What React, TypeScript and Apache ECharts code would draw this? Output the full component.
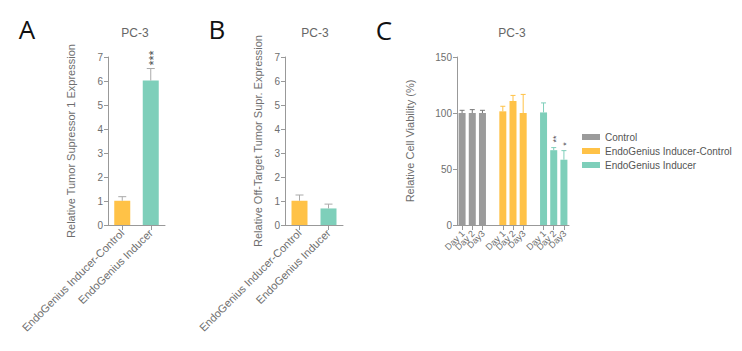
import React, { useEffect, useRef } from "react";
import * as echarts from "echarts";

// ---------- data ----------
const categoriesAB = ["EndoGenius Inducer-Control", "EndoGenius Inducer"];
const valuesA = [1.01, 6.02];
const errorsA = [0.17, 0.5];
const starsA = ["", "***"];

const valuesB = [1.01, 0.69];
const errorsB = [0.24, 0.18];
const starsB = ["", ""];

const daysC = ["Day 1", "Day 2", "Day3"];
const groupNamesC = ["Control", "EndoGenius Inducer-Control", "EndoGenius Inducer"];
const controlC = [100, 100, 100];
const controlErrC = [2.4, 3, 2.4];
const inducerCtrlC = [101.5, 110.7, 100];
const inducerCtrlErrC = [4.5, 5, 16.6];
const inducerC = [100.5, 66.8, 58.3];
const inducerErrC = [8.5, 2.3, 8.1];
const starsC = [["", "", ""], ["", "", ""], ["", "**", "*"]];

const yTicksAB = { min: 0, max: 7, interval: 1 };
const yTicksC = { min: 0, max: 150, interval: 50 };

// ---------- style ----------
const GRAY = "#9b9b9b";
const ORANGE = "#ffc247";
const GREEN = "#7ecfba";
const AXIS = "#999999";
const LABEL = "#6e6e6e";
const FONT = "Liberation Sans";

// C category axis: 3 days per group, blank slot between groups
const categoriesC: string[] = [];
daysC.forEach((d) => categoriesC.push(d));
categoriesC.push("");
daysC.forEach((d) => categoriesC.push(d));
categoriesC.push("");
daysC.forEach((d) => categoriesC.push(d));

const labelItemsC = categoriesC
  .map((text, idx) => ({ text, idx }))
  .filter((it) => it.text !== "");

const groupValuesC = [controlC, inducerCtrlC, inducerC];
const groupErrC = [controlErrC, inducerCtrlErrC, inducerErrC];
const groupColorsC = [GRAY, ORANGE, GREEN];

function slotIndex(g: number, d: number) {
  return g * (daysC.length + 1) + d;
}

// error bar (upper whisker + cap) with vertically written significance stars
function errRender(capHalf: number, color: string, starSize: number, starGap: number, stars: string[]) {
  return (params: any, api: any) => {
    const idx = api.value(0);
    const v = api.value(1);
    const e = api.value(2);
    const star = stars[params.dataIndex] || "";
    const base = api.coord([idx, v]);
    const top = api.coord([idx, v + e]);
    const children: any[] = [
      {
        type: "line",
        shape: { x1: base[0], y1: base[1], x2: top[0], y2: top[1] },
        style: { stroke: color, lineWidth: 1 },
      },
      {
        type: "line",
        shape: { x1: top[0] - capHalf, y1: top[1], x2: top[0] + capHalf, y2: top[1] },
        style: { stroke: color, lineWidth: 1 },
      },
    ];
    if (star.length > 0) {
      children.push({
        type: "text",
        x: top[0] + starSize * 0.2,
        y: top[1] - starGap,
        rotation: Math.PI / 2,
        style: {
          text: star,
          fill: "#505050",
          font: `${starSize}px ${FONT}`,
          align: "left",
          verticalAlign: "middle",
        },
      });
    }
    return { type: "group", children };
  };
}

export default function App() {
  const ref = useRef<HTMLDivElement>(null);
  useEffect(() => {
    document.body.style.margin = "0";
    if (!ref.current) return;
    const chart = echarts.init(ref.current, null, { renderer: "svg" });

    const yAxisBase = (name: string, nameGap: number, ticks: any, gridIndex: number) => ({
      type: "value",
      gridIndex,
      min: ticks.min,
      max: ticks.max,
      interval: ticks.interval,
      name,
      nameLocation: "middle",
      nameGap,
      nameTextStyle: { color: LABEL, fontSize: 11, fontFamily: FONT },
      axisLine: { show: true, lineStyle: { color: AXIS, width: 1 } },
      axisTick: { show: true, length: 4, lineStyle: { color: AXIS } },
      axisLabel: { color: LABEL, fontSize: 10, margin: 5, fontFamily: FONT },
      splitLine: { show: false },
    });

    const xAxisBase = (data: string[], gridIndex: number, fontSize: number, showLabels: boolean) => ({
      type: "category",
      gridIndex,
      data,
      axisLine: { show: true, lineStyle: { color: AXIS, width: 1 } },
      axisTick: {
        show: true,
        alignWithLabel: true,
        length: 5,
        lineStyle: { color: AXIS },
        interval: (i: number, v: string) => v !== "",
      },
      axisLabel: {
        show: showLabels,
        color: LABEL,
        fontSize,
        rotate: 45,
        margin: 6,
        fontFamily: FONT,
        interval: 0,
      },
      splitLine: { show: false },
    });

    const errDataAB = (vals: number[], errs: number[]) => vals.map((v, i) => [i, v, errs[i]]);

    const seriesC: any[] = [];
    groupNamesC.forEach((name, g) => {
      const data = categoriesC.map(() => "-" as any);
      groupValuesC[g].forEach((v, d) => {
        data[slotIndex(g, d)] = v;
      });
      seriesC.push({
        name,
        type: "bar",
        xAxisIndex: 2,
        yAxisIndex: 2,
        data,
        barWidth: 7,
        barGap: "-100%",
        itemStyle: { color: groupColorsC[g] },
      });
    });
    groupNamesC.forEach((name, g) => {
      seriesC.push({
        name: name + " error",
        type: "custom",
        xAxisIndex: 2,
        yAxisIndex: 2,
        renderItem: errRender(2.5, g === 0 ? "#777" : groupColorsC[g], 9, 5, starsC[g]),
        encode: { x: 0, y: 1 },
        data: groupValuesC[g].map((v, d) => [slotIndex(g, d), v, groupErrC[g][d]]),
        z: 3,
      });
    });
    // tick labels of the C axis (one per bar)
    seriesC.push({
      name: "C labels",
      type: "custom",
      xAxisIndex: 2,
      yAxisIndex: 2,
      encode: { x: 0, y: 1 },
      data: labelItemsC.map((it) => [it.idx, 0]),
      renderItem: (params: any, api: any) => {
        const p = api.coord([api.value(0), 0]);
        return {
          type: "text",
          x: p[0] + 1,
          y: p[1] + 7,
          rotation: Math.PI / 4,
          style: {
            text: labelItemsC[params.dataIndex].text,
            fill: LABEL,
            font: `9px ${FONT}`,
            align: "right",
            verticalAlign: "middle",
          },
        };
      },
      z: 3,
    });

    const option: any = {
      animation: false,
      textStyle: { fontFamily: FONT },
      grid: [
        { left: 108, top: 57, width: 57, height: 168 },
        { left: 285, top: 57, width: 58, height: 168 },
        { left: 457, top: 57, width: 112, height: 168 },
      ],
      xAxis: [
        xAxisBase(categoriesAB, 0, 11, true),
        xAxisBase(categoriesAB, 1, 11, true),
        xAxisBase(categoriesC, 2, 9, false),
      ],
      yAxis: [
        yAxisBase("Relative Tumor Supressor 1 Expression", 32, yTicksAB, 0),
        yAxisBase("Relative Off-Target Tumor Supr. Expression", 22, yTicksAB, 1),
        yAxisBase("Relative Cell Viability (%)", 42, yTicksC, 2),
      ],
      legend: {
        data: groupNamesC,
        orient: "vertical",
        left: 577,
        top: 127,
        itemWidth: 18,
        itemHeight: 6,
        itemGap: 4,
        icon: "rect",
        selectedMode: false,
        textStyle: { color: "#555", fontSize: 10, fontFamily: FONT },
      },
      graphic: [
        { type: "text", x: 27, y: 29, style: { text: "A", fill: "#111", font: `26px Open Sans`, align: "center", verticalAlign: "middle" } },
        { type: "text", x: 217, y: 29, style: { text: "B", fill: "#111", font: `26px Open Sans`, align: "center", verticalAlign: "middle" } },
        { type: "text", x: 384, y: 30, style: { text: "C", fill: "#111", font: `26px Open Sans`, align: "center", verticalAlign: "middle" } },
        { type: "text", x: 135, y: 33, style: { text: "PC-3", fill: "#666", font: `12px ${FONT}`, align: "center", verticalAlign: "middle" } },
        { type: "text", x: 315, y: 33, style: { text: "PC-3", fill: "#666", font: `12px ${FONT}`, align: "center", verticalAlign: "middle" } },
        { type: "text", x: 512, y: 33, style: { text: "PC-3", fill: "#666", font: `12px ${FONT}`, align: "center", verticalAlign: "middle" } },
      ],
      series: [
        {
          name: "A",
          type: "bar",
          xAxisIndex: 0,
          yAxisIndex: 0,
          barWidth: 16,
          data: valuesA.map((v, i) => ({ value: v, itemStyle: { color: i === 0 ? ORANGE : GREEN } })),
        },
        {
          name: "A error",
          type: "custom",
          xAxisIndex: 0,
          yAxisIndex: 0,
          renderItem: errRender(4, "#aaa", 13, 3, starsA),
          encode: { x: 0, y: 1 },
          data: errDataAB(valuesA, errorsA),
          z: 3,
        },
        {
          name: "B",
          type: "bar",
          xAxisIndex: 1,
          yAxisIndex: 1,
          barWidth: 16,
          data: valuesB.map((v, i) => ({ value: v, itemStyle: { color: i === 0 ? ORANGE : GREEN } })),
        },
        {
          name: "B error",
          type: "custom",
          xAxisIndex: 1,
          yAxisIndex: 1,
          renderItem: errRender(4, "#aaa", 13, 3, starsB),
          encode: { x: 0, y: 1 },
          data: errDataAB(valuesB, errorsB),
          z: 3,
        },
        ...seriesC,
      ],
    };
    chart.setOption(option);
    return () => chart.dispose();
  }, []);
  return <div ref={ref} style={{ width: 742, height: 351 }} />;
}
